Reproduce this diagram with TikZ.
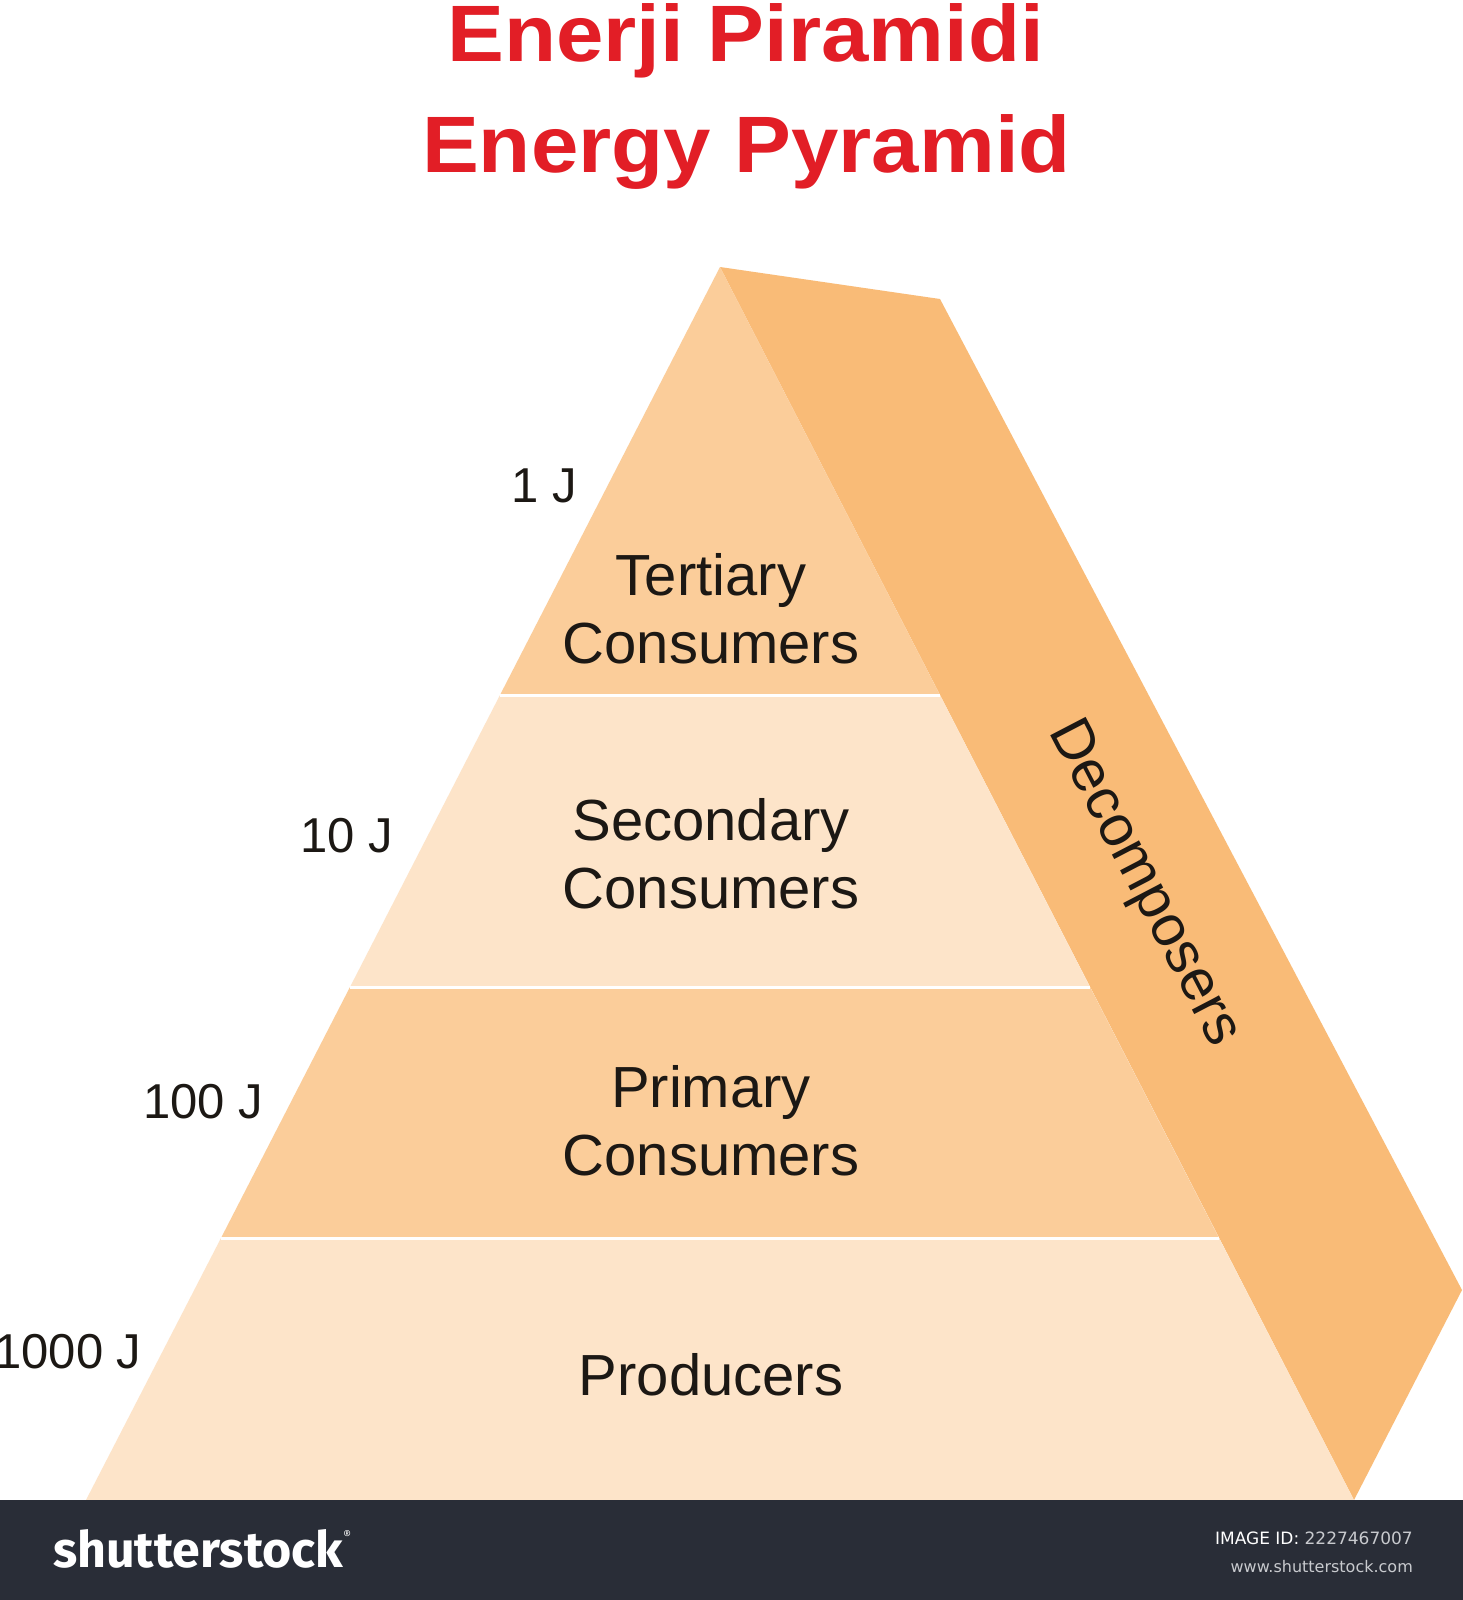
\documentclass[tikz,border=0pt]{standalone}
\usepackage{fontspec}
\setmainfont{Liberation Sans}
\newfontfamily\dejavu{DejaVu Sans}
\newfontfamily\logofont{Fira Sans}
\definecolor{titlered}{RGB}{226,30,38}
\definecolor{bandA}{RGB}{251,205,154}
\definecolor{bandB}{RGB}{253,228,201}
\definecolor{sideface}{RGB}{249,187,119}
\definecolor{barcol}{RGB}{41,45,55}
\definecolor{txt}{RGB}{28,24,20}
\definecolor{urlgrey}{RGB}{200,202,206}
\tikzset{
  sep/.style={white, line width=3pt},
  lbl/.style={font=\fontsize{58}{68}\selectfont, text=txt, anchor=base, inner sep=0pt},
  elbl/.style={font=\fontsize{49}{58}\selectfont, text=txt, anchor=base, inner sep=0pt},
  ttl/.style={font=\bfseries\fontsize{80}{96}\selectfont, text=titlered, anchor=base, inner sep=0pt},
}
\begin{document}
\begin{tikzpicture}[x=1pt,y=-1pt]
\useasboundingbox (0,0) rectangle (1463,1600);
\fill[white] (0,0) rectangle (1463,1600);

% title
\node[ttl] (title1) at (745.5,62) {\scalebox{1.065}[1]{Enerji Piramidi}};
\node[ttl] (title2) at (746.5,172) {\scalebox{1.065}[1]{Energy Pyramid}};

% side face (decomposers)
\fill[sideface] (720,267) -- (940,299) -- (1462,1290) -- (1354,1500) -- cycle;

% front face bands
\fill[bandA] (720,267) -- (940,695) -- (500,695) -- cycle;
\fill[bandB] (500,695) -- (940,695) -- (1090,987) -- (350,987) -- cycle;
\fill[bandA] (350,987) -- (1090,987) -- (1219,1238) -- (221,1238) -- cycle;
\fill[bandB] (221,1238) -- (1219,1238) -- (1354,1500) -- (86,1500) -- cycle;

% separators
\draw[sep] (500,695) -- (940,695);
\draw[sep] (350,987) -- (1090,987);
\draw[sep] (221,1238) -- (1219,1238);

% energy labels
\node[elbl] (e1) at (544,502) {1 J};
\node[elbl] (e10) at (347,852) {10 J};
\node[elbl] (e100) at (203,1118) {100 J};
\node[elbl] (e1000) at (68,1368) {1000 J};

% level labels
\node[lbl] (tertA) at (711,595) {Tertiary};
\node[lbl] (tertB) at (711,663) {Consumers};
\node[lbl] (secA) at (711,840) {Secondary};
\node[lbl] (secB) at (711,908) {Consumers};
\node[lbl] (primA) at (711,1107) {Primary};
\node[lbl] (primB) at (711,1175) {Consumers};
\node[lbl] (prod) at (711,1395) {Producers};

\node[font=\fontsize{58}{68}\selectfont, text=txt, inner sep=0pt, rotate=-62.5] (decomp) at (1143,884) {Decomposers};

% bottom bar
\fill[barcol] (0,1500) rectangle (1463,1600);
\node[anchor=base west, inner sep=0pt, text=white] (logo) at (53,1567)
  {\resizebox{290pt}{!}{\logofont\bfseries shutterstock}\raisebox{28pt}{\logofont\fontsize{12}{12}\selectfont\textregistered}};
\node[anchor=base east, inner sep=0pt, font=\dejavu\fontsize{17}{20}\selectfont, text=white] (imgid) at (1413,1544)
  {IMAGE ID: \textcolor{urlgrey}{2227467007}};
\node[anchor=base east, inner sep=0pt, font=\dejavu\fontsize{16}{20}\selectfont, text=urlgrey] (url) at (1413,1572)
  {www.shutterstock.com};
\end{tikzpicture}
\end{document}
